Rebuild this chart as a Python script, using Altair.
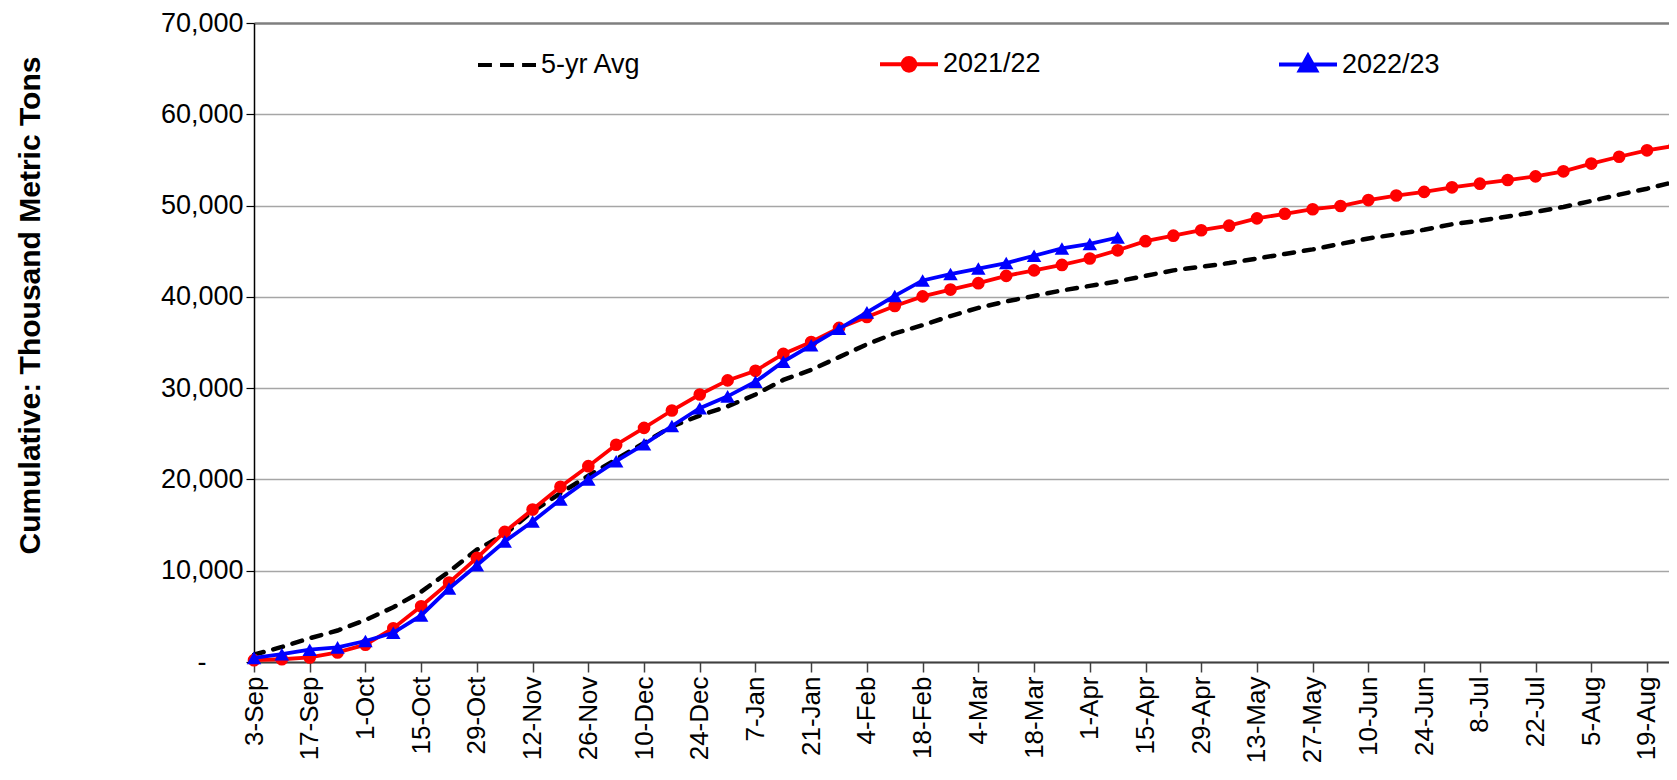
import altair as alt
import pandas as pd

weeks = ["3-Sep", "10-Sep", "17-Sep", "24-Sep", "1-Oct", "8-Oct", "15-Oct", "22-Oct", "29-Oct",
         "5-Nov", "12-Nov", "19-Nov", "26-Nov", "3-Dec", "10-Dec", "17-Dec", "24-Dec", "31-Dec",
         "7-Jan", "14-Jan", "21-Jan", "28-Jan", "4-Feb", "11-Feb", "18-Feb", "25-Feb", "4-Mar",
         "11-Mar", "18-Mar", "25-Mar", "1-Apr", "8-Apr", "15-Apr", "22-Apr", "29-Apr", "6-May",
         "13-May", "20-May", "27-May", "3-Jun", "10-Jun", "17-Jun", "24-Jun", "1-Jul", "8-Jul",
         "15-Jul", "22-Jul", "29-Jul", "5-Aug", "12-Aug", "19-Aug", "26-Aug"]

avg5 = [800, 1650, 2600, 3450, 4600, 6000, 7700, 9900, 12300, 14000, 16500, 18500, 20400,
        22200, 24000, 25800, 27000, 28000, 29300, 30900, 32000, 33400, 34800, 36000, 36900,
        37900, 38800, 39500, 40100, 40700, 41200, 41700, 42300, 42900, 43300, 43700, 44200,
        44700, 45200, 45800, 46400, 46850, 47350, 47950, 48350, 48800, 49300, 49850, 50500,
        51200, 51850, 52600]

y2122 = [200, 300, 500, 1050, 1900, 3700, 6100, 8700, 11400, 14250, 16700, 19200, 21450,
         23800, 25650, 27550, 29300, 30850, 31900, 33750, 35050, 36600, 37800, 39000, 40050,
         40800, 41500, 42300, 42900, 43500, 44200, 45100, 46100, 46700, 47300, 47800, 48600,
         49100, 49600, 49950, 50600, 51100, 51500, 52000, 52400, 52800, 53200, 53750, 54600,
         55350, 56050, 56550]

y2223 = [450, 850, 1350, 1600, 2300, 3200, 5100, 8050, 10600, 13200, 15400, 17800, 20000,
         22000, 23850, 25850, 27800, 29100, 30700, 32900, 34700, 36500, 38300, 40100, 41800,
         42500, 43100, 43700, 44500, 45300, 45800, 46500]

series_names = ["5-yr Avg", "2021/22", "2022/23"]
series_colors = ["#000000", "#ff0000", "#0000ff"]

rows = []
for name, vals in zip(series_names, [avg5, y2122, y2223]):
    for i, v in enumerate(vals):
        rows.append({"week": i, "label": weeks[i], "series": name, "value": v})
df = pd.DataFrame(rows)

FONT = "Liberation Sans"

label_js = "[" + ",".join("'" + w + "'" for w in weeks) + "]"

x_scale = alt.Scale(domain=[0, 50.79], nice=False, zero=False)
y_scale = alt.Scale(domain=[0, 70000], nice=False)

x_axis = alt.Axis(
    values=list(range(0, 51, 2)),
    labelExpr=label_js + "[datum.value]",
    labelAngle=270, labelFontSize=26, labelFont=FONT, labelColor="black",
    labelPadding=4, labelOverlap=False, labelBound=False,
    tickSize=10, tickColor="#404040", tickWidth=1.5,
    domainColor="#404040", domainWidth=2,
    grid=False, title=None,
)

y_axis = alt.Axis(
    values=list(range(0, 70001, 10000)),
    labelExpr="datum.value == 0 ? '-' : format(datum.value, ',')",
    labelFontSize=27, labelFont=FONT, labelColor="black",
    labelPadding={"condition": {"test": "datum.value == 0", "value": 40}, "value": 3},
    tickSize=8, tickColor="black", tickWidth=1.2,
    domainColor="black", domainWidth=1.5,
    grid=True,
    gridColor={"condition": {"test": "datum.value == 70000", "value": "#7f7f7f"}, "value": "#a6a6a6"},
    gridWidth={"condition": {"test": "datum.value == 70000", "value": 2.5}, "value": 1.3},
    title="Cumulative:  Thousand Metric Tons",
    titleFont=FONT, titleFontSize=30, titleFontWeight="bold", titleColor="black",
    titleX=-224, titleY=282, titleAngle=270, titleBaseline="middle", titleAlign="center",
)

base = alt.Chart(df).encode(
    x=alt.X("week:Q", scale=x_scale, axis=x_axis),
    y=alt.Y("value:Q", scale=y_scale, axis=y_axis),
)

avg_line = base.transform_filter(alt.datum.series == "5-yr Avg").mark_line(
    color="black", strokeWidth=4.5, strokeDash=[10, 10], strokeCap="round")
red_line = base.transform_filter(alt.datum.series == "2021/22").mark_line(
    color="#ff0000", strokeWidth=3.8)
red_pts = base.transform_filter(alt.datum.series == "2021/22").mark_point(
    shape="circle", filled=True, size=160, color="#ff0000", opacity=1)
blue_line = base.transform_filter(alt.datum.series == "2022/23").mark_line(
    color="#0000ff", strokeWidth=3.8)
blue_pts = base.transform_filter(alt.datum.series == "2022/23").mark_point(
    shape="triangle-up", filled=True, size=210, color="#0000ff", opacity=1)

legend_paths = [
    "M-1,0H-0.52M-0.24,0H0.24M0.52,0H1",
    "M-1,0H1M-0.22,0A0.22,0.22,0,1,1,0.22,0A0.22,0.22,0,1,1,-0.22,0Z",
    "M-1,0H1M0,-0.3L0.28,0.2L-0.28,0.2Z",
]

legend = alt.Legend(
    title=None, orient="none", legendX=222, legendY=10, direction="horizontal",
    columns=3, columnPadding=230, padding=0,
    labelFont=FONT, labelFontSize=27, labelColor="black", labelOffset=3,
    symbolSize=3364, symbolStrokeWidth=4,
)

legend_layer = base.transform_filter("false").mark_point(filled=True, opacity=1).encode(
    fill=alt.Fill("series:N", scale=alt.Scale(domain=series_names, range=series_colors), legend=legend),
    stroke=alt.Stroke("series:N", scale=alt.Scale(domain=series_names, range=series_colors), legend=legend),
    shape=alt.Shape("series:N", scale=alt.Scale(domain=series_names, range=legend_paths), legend=legend),
)

chart = alt.layer(avg_line, red_line, red_pts, blue_line, blue_pts, legend_layer).properties(
    width=1415, height=639,
    autosize=alt.AutoSizeParams(type="none"),
    padding={"left": 246, "top": 15, "right": 0, "bottom": 105},
).configure_view(stroke=None).configure(background="white")

chart.save("out.html", embed_options={"renderer": "svg", "actions": False})
